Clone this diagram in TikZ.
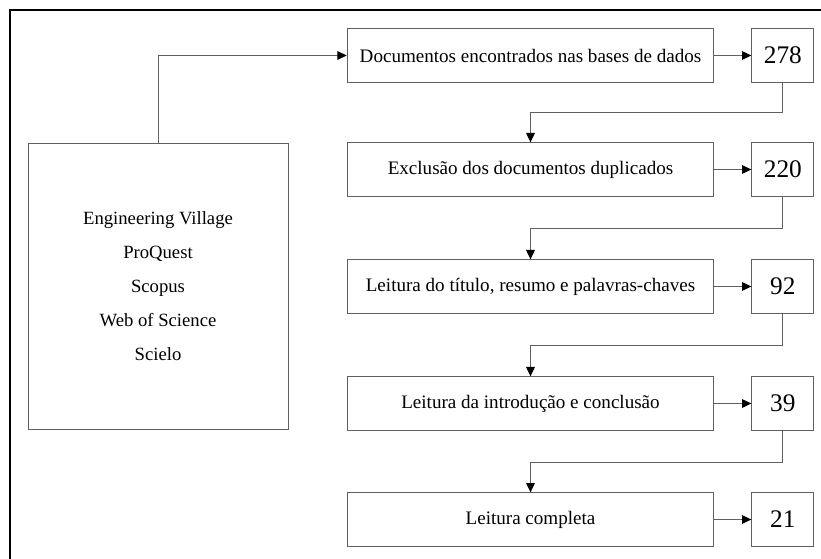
\documentclass[tikz,border=0pt]{standalone}
\usepackage{fontspec}
\setmainfont{Liberation Serif}
\usetikzlibrary{positioning,arrows.meta}
\definecolor{linegray}{HTML}{606060}
\tikzset{
  stepbox/.style={draw=linegray, rectangle, line width=0.75pt, inner sep=0pt,
    minimum width=275pt, minimum height=40pt, font=\fontsize{14.3}{17}\selectfont},
  countbox/.style={draw=linegray, rectangle, line width=0.75pt, inner sep=0pt,
    minimum width=46.5pt, minimum height=40pt, font=\fontsize{19}{22}\selectfont},
  basebox/.style={draw=linegray, rectangle, line width=0.75pt, inner sep=0pt,
    minimum width=195pt, minimum height=215pt, align=center,
    font=\fontsize{14}{25.5}\selectfont},
  link/.style={draw=linegray, line width=0.75pt,
    -{Triangle[length=7pt, width=6.5pt, color=black]}}
}

\begin{document}
\begin{tikzpicture}[x=0.75pt, y=-0.75pt]
    \useasboundingbox[fill=white] (0,0) rectangle (821,559);
    % frame
    \draw[line width=1.5pt] (10,559) -- (10,10) -- (821,10);

    % databases
    \node[basebox] (bases) at (158,286.5) {
        Engineering Village \\
        ProQuest \\
        Scopus \\
        Web of Science \\
        Scielo
    };

    % selection steps
    \node[stepbox] (found) at (530.5,55.5) {Documentos encontrados nas bases de dados};
    \node[stepbox] (dupl) at (530.5,169.5) {Exclusão dos documentos duplicados};
    \node[stepbox] (title) at (530.5,286.5) {Leitura do título, resumo e palavras-chaves};
    \node[stepbox] (intro) at (530.5,403.5) {Leitura da introdução e conclusão};
    \node[stepbox] (full) at (530.5,519.5) {Leitura completa};

    % counts
    \node[countbox, right=27.75pt of found] (nfound) {278};
    \node[countbox, right=27.75pt of dupl] (ndupl) {220};
    \node[countbox, right=27.75pt of title] (ntitle) {92};
    \node[countbox, right=27.75pt of intro] (nintro) {39};
    \node[countbox, right=27.75pt of full] (nfull) {21};

    \draw[link] (bases.north) |- (found.west);

    \draw[link] (found) -- (nfound);
    \draw[link] (dupl) -- (ndupl);
    \draw[link] (title) -- (ntitle);
    \draw[link] (intro) -- (nintro);
    \draw[link] (full) -- (nfull);

    \draw[link] (nfound.south) -- ++(0,30) -| (dupl.north);
    \draw[link] (ndupl.south) -- ++(0,32) -| (title.north);
    \draw[link] (ntitle.south) -- ++(0,32) -| (intro.north);
    \draw[link] (nintro.south) -- ++(0,32) -| (full.north);
\end{tikzpicture}
\end{document}
